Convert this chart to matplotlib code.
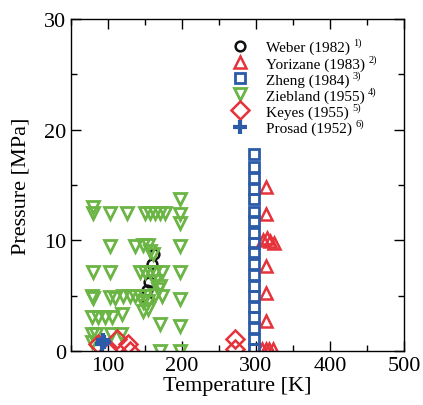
import numpy as np
import matplotlib
matplotlib.use("Agg")
import matplotlib.pyplot as plt
from matplotlib.ticker import MultipleLocator

plt.rcParams['font.family'] = ['Liberation Serif', 'DejaVu Serif']

# ---- data ----
weber_T = [162, 160, 155, 153, 152]
weber_P = [8.8, 7.9, 6.2, 5.5, 4.6]

yorizane_T = [313, 313, 309, 315, 319, 324, 313, 313, 313, 308, 313, 318, 323]
yorizane_P = [14.8, 12.4, 10.0, 10.2, 9.9, 9.8, 7.7, 5.2, 2.7, 0.2, 0.2, 0.2, 0.2]

zheng_T = [297] * 19
zheng_P = [0.2, 1.1, 2.1, 3.1, 4.0, 5.0, 5.9, 6.9, 7.9, 8.9, 9.8, 10.7,
           11.7, 12.6, 13.7, 14.6, 15.6, 16.6, 17.8]

ziebland_T = [80, 80, 103, 126, 150, 157, 164, 170, 177, 197, 197, 197,
              103, 136, 147, 154, 161, 157, 197,
              80, 103, 143, 150, 157, 164, 173, 197, 164, 170, 168,
              78, 80, 103, 109, 120, 130, 136, 143, 150, 164, 173, 197, 147, 154,
              78, 86, 96, 105, 119, 147, 154, 170, 197,
              78, 84, 104, 118, 78,
              170, 197]
ziebland_P = [13.0, 12.5, 12.5, 12.5, 12.5, 12.5, 12.5, 12.5, 12.5, 13.7, 12.4, 11.6,
              9.5, 9.5, 9.6, 9.6, 8.8, 9.0, 9.5,
              7.1, 7.1, 7.1, 7.1, 7.1, 7.1, 7.1, 7.1, 6.3, 5.9, 5.6,
              5.0, 4.8, 4.9, 4.8, 5.0, 5.0, 5.0, 5.0, 5.0, 5.1, 5.0, 4.7, 4.4, 4.5,
              3.1, 3.1, 3.1, 3.1, 3.3, 3.6, 3.8, 2.4, 2.3,
              1.5, 1.5, 1.5, 1.5, 0.8,
              0.0, 0.0]

keyes_T = [86, 100, 112, 127, 130, 271, 271]
keyes_P = [0.6, 0.0, 1.1, 0.6, 0.0, 1.1, 0.2]

prosad_T = [92, 93, 95]
prosad_P = [0.6, 1.0, 0.8]

names = ['Weber (1982)', 'Yorizane (1983)', 'Zheng (1984)',
         'Ziebland (1955)', 'Keyes (1955)', 'Prosad (1952)']
refs = ['1)', '2)', '3)', '4)', '5)', '6)']

black = '#111111'
red = '#e5323b'
blue = '#2c5ba8'
green = '#6ab544'

fig = plt.figure(figsize=(4.23, 4.06), dpi=100)
ax = fig.add_axes([0.168, 0.133, 0.787, 0.818])

ax.plot(weber_T, weber_P, 'o', ms=7, mfc='none', mec=black, mew=1.8, label=names[0])
ax.plot(yorizane_T, yorizane_P, '^', ms=8, mfc='none', mec=red, mew=1.8, label=names[1])
ax.plot(zheng_T, zheng_P, 's', ms=7, mfc='none', mec=blue, mew=2.0, label=names[2])
ax.plot(ziebland_T, ziebland_P, 'v', ms=8, mfc='none', mec=green, mew=2.0, label=names[3])
ax.plot(keyes_T, keyes_P, 'D', ms=9, mfc='none', mec=red, mew=1.8, label=names[4])
ax.plot(prosad_T, prosad_P, '+', ms=10, mec=blue, mew=3.0, label=names[5])

ax.set_xlim(50, 500)
ax.set_ylim(0, 30)
ax.xaxis.set_major_locator(MultipleLocator(100))
ax.xaxis.set_minor_locator(MultipleLocator(50))
ax.yaxis.set_major_locator(MultipleLocator(10))
ax.yaxis.set_minor_locator(MultipleLocator(5))
ax.tick_params(which='both', direction='in', top=True, right=True, labelsize=16, width=1)
ax.tick_params(which='major', length=7)
ax.tick_params(which='minor', length=4)
for s in ax.spines.values():
    s.set_linewidth(1.0)

ax.set_xlabel('Temperature [K]', fontsize=16, labelpad=1)
ax.set_ylabel('Pressure [MPa]', fontsize=16, labelpad=10)

leg = ax.legend(loc='upper left', bbox_to_anchor=(0.485, 0.935), frameon=False, fontsize=11,
                handletextpad=1.2, labelspacing=0.15, borderaxespad=0.0, borderpad=0.0,
                handlelength=1.0, numpoints=1)

# reference numbers as small superscripts after each legend entry
fig.canvas.draw()
inv = ax.transAxes.inverted()
for t, r in zip(leg.get_texts(), refs):
    bb = t.get_window_extent()
    x0, y0 = inv.transform((bb.x1 + 3, bb.y1 + 3))
    ax.text(x0, y0, r, transform=ax.transAxes, fontsize=7.5, va='top', ha='left')

fig.savefig('out.png', dpi=100)
